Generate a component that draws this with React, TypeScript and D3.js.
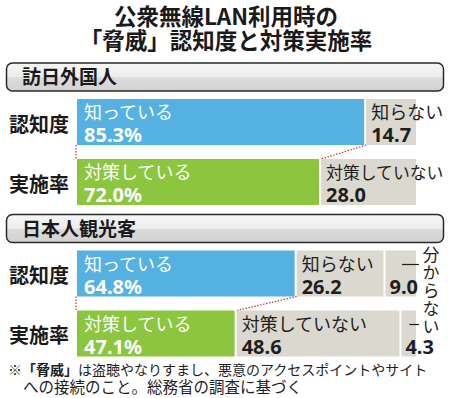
import * as React from 'react'
import * as d3 from 'd3'

const titleLines = ['公衆無線LAN利用時の', '「脅威」認知度と対策実施率']
const groupNames = ['訪日外国人', '日本人観光客']
const rowNames = ['認知度', '実施率']
const yesLabels = ['知っている', '対策している']
const noLabels = ['知らない', '対策していない']
const unknownLabel = '分からない'
// [row][segment] : yes / no / unknown
const foreignValues = [
  [85.3, 14.7],
  [72.0, 28.0],
]
const japaneseValues = [
  [64.8, 26.2, 9.0],
  [47.1, 48.6, 4.3],
]
const noteBold = '「脅威」'
const noteLine1 = 'は盗聴やなりすまし、悪意のアクセスポイントやサイト'
const noteLine2 = 'への接続のこと。総務省の調査に基づく'

const W = 450
const H = 398
const JP = "'Noto Sans CJK JP', 'Noto Sans', sans-serif"
const NUM = "'Noto Sans', 'Noto Sans CJK JP', sans-serif"
const BLUE = '#56b1e3'
const GREEN = '#8cc63f'
const GRAY = '#dbd8cf'
const DOT = '#c0392b'

const headerTops = [63, 214.5]
const headerH = 28
const barH = 46
const rowOffsets = [36, 96]
const gap = 2
const labelSize = 18

const x = d3.scaleLinear().domain([0, 100]).range([77, 416])

function Section({ gi, values }: { gi: number; values: number[][] }) {
  const top = headerTops[gi]
  const rows = values.map((vals, ri) => {
    const y0 = top + rowOffsets[ri]
    const starts = d3.cumsum([0, ...vals]).slice(0, vals.length)
    return { ri, y0, vals, starts }
  })
  const r0 = rows[0]
  const r1 = rows[1]
  return (
    <g>
      <rect x={6.5} y={top} width={437} height={headerH} rx={6} fill="url(#hdr)" stroke="#2a2a2a" strokeWidth={1.5} />
      <text x={22} y={top + 21} fontFamily={JP} fontWeight={700} fontSize={19} fill="#1a1a1a">
        {groupNames[gi]}
      </text>
      {/* connectors between the two rows */}
      <line x1={x(0) - 1} x2={x(0) - 1} y1={r0.y0 + barH} y2={r1.y0} stroke={DOT} strokeWidth={1.2} strokeDasharray="1.5,1.5" />
      <line x1={x(r0.vals[0])} x2={x(r1.vals[0])} y1={r0.y0 + barH} y2={r1.y0} stroke={DOT} strokeWidth={1.2} strokeDasharray="1.5,1.5" />
      {rows.map((r) => (
        <g key={r.ri}>
          <text x={9} y={r.y0 + barH / 2 + 1} dominantBaseline="central" fontFamily={JP} fontWeight={700} fontSize={20} fill="#1a1a1a">
            {rowNames[r.ri]}
          </text>
          {r.vals.map((v, si) => {
            const xs = x(r.starts[si])
            const xe = x(r.starts[si] + v)
            const last = si === r.vals.length - 1
            const fill = si === 0 ? (r.ri === 0 ? BLUE : GREEN) : GRAY
            const txt = si === 0 ? '#ffffff' : '#1e1e1e'
            const label = si === 0 ? yesLabels[r.ri] : noLabels[r.ri]
            const lx = xs + (si === 0 ? 7 : 5)
            const fs = Math.min(labelSize, (W - 6 - lx) / Array.from(label).length)
            return (
              <g key={si}>
                <rect x={xs} y={r.y0} width={xe - xs - (last ? 0 : gap)} height={barH} fill={fill} />
                {si < 2 && (
                  <text x={lx} y={r.y0 + 20} fontFamily={JP} fontSize={fs} fill={txt}>
                    {label}
                  </text>
                )}
                {si === 2 && (
                  <line x1={Math.max(xs + 8, xe - 14)} x2={xe + 3} y1={r.y0 + 14} y2={r.y0 + 14} stroke="#1e1e1e" strokeWidth={1.2} />
                )}
                <text x={xs + (si === 0 ? 7 : si === 1 ? 5 : 4)} y={r.y0 + 43} fontFamily={NUM} fontWeight={700} fontSize={20} fill={txt}>
                  {si === 0 ? `${v.toFixed(1)}%` : v.toFixed(1)}
                </text>
              </g>
            )
          })}
        </g>
      ))}
    </g>
  )
}

export default function App() {
  return (
    <svg width={W} height={H} style={{ display: 'block', position: 'absolute', left: 0, top: 0, background: '#fff' }}>
      <defs>
        <linearGradient id="hdr" x1="0" x2="0" y1="0" y2="1">
          <stop offset="0" stopColor="#f7f7f7" />
          <stop offset="0.5" stopColor="#ececec" />
          <stop offset="0.52" stopColor="#dcdcdc" />
          <stop offset="1" stopColor="#d2d2d2" />
        </linearGradient>
      </defs>
      <rect width={W} height={H} fill="#fff" />
      {titleLines.map((t, i) => (
        <text key={i} x={226} y={25 + i * 23.5} textAnchor="middle" fontFamily={JP} fontWeight={700} fontSize={22.5} fill="#1a1a1a">
          {t}
        </text>
      ))}
      <Section gi={0} values={foreignValues} />
      <Section gi={1} values={japaneseValues} />
      <text x={431} y={246} writingMode="vertical-rl" letterSpacing={1} fontFamily={JP} fontSize={17} fill="#1e1e1e">
        {unknownLabel}
      </text>
      <text x={8} y={375} fontFamily={JP} fontSize={14} fill="#1e1e1e">
        ※<tspan fontWeight={700}>{noteBold}</tspan>
        {noteLine1}
      </text>
      <text x={23} y={393} fontFamily={JP} fontSize={15.5} fill="#1e1e1e">
        {noteLine2}
      </text>
    </svg>
  )
}
